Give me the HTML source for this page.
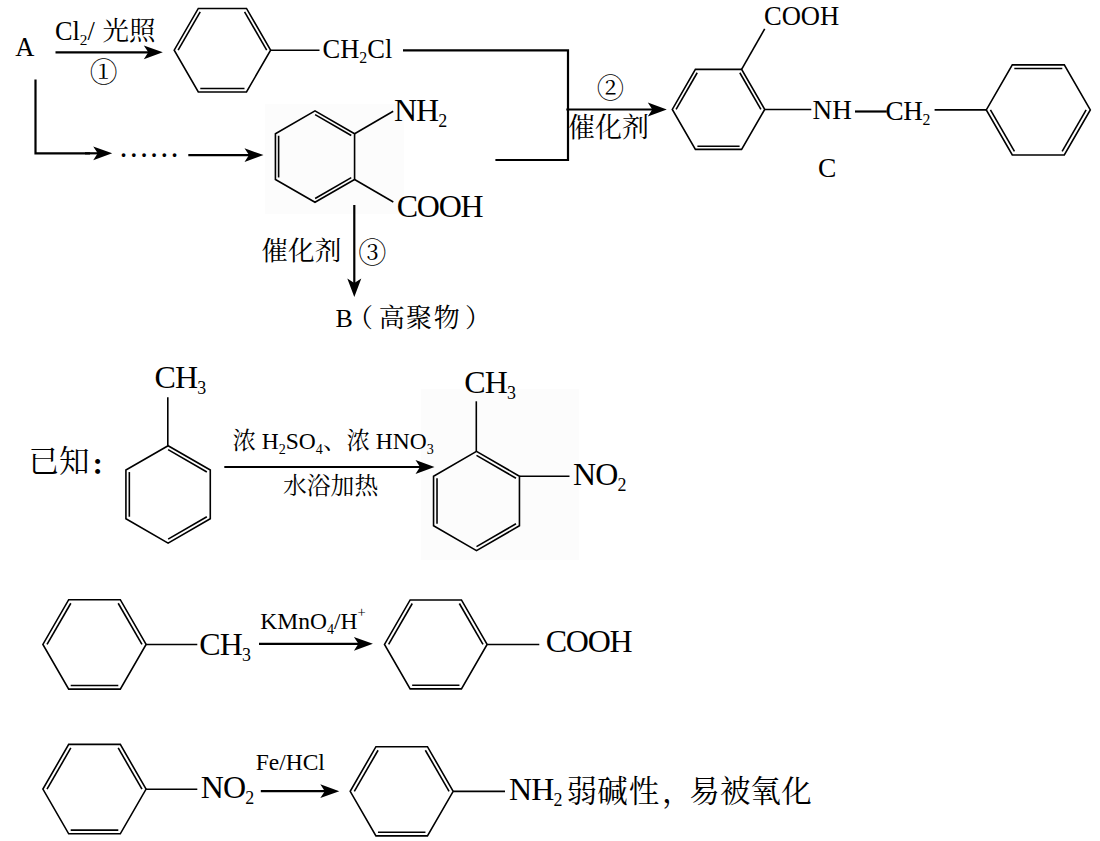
<!DOCTYPE html>
<html lang="zh">
<head>
<meta charset="utf-8">
<title>reaction scheme</title>
<style>
html,body{margin:0;padding:0;background:#fff;}
svg{display:block;}
text{font-family:'Liberation Serif', 'Noto Serif CJK SC', serif;fill:#000;white-space:pre;}
</style>
</head>
<body>
<svg width="1100" height="841" viewBox="0 0 1100 841">
<rect x="0" y="0" width="1100" height="841" fill="#fff"/>
<rect x="265" y="104" width="139" height="110" fill="#fcfcfc"/>
<rect x="421" y="389" width="158" height="171" fill="#fcfcfc"/>
<text x="15.30" y="55.80" font-size="26.5" ><tspan>A</tspan></text>
<text x="55.00" y="39.50" font-size="26.3" ><tspan>Cl</tspan><tspan font-size="15.25" dy="5.00">2</tspan><tspan dy="-5.00">/</tspan></text>
<text x="102.40" y="39.50" font-size="26.5" ><tspan>光照</tspan></text>
<line x1="55.50" y1="52.30" x2="149.30" y2="52.30" stroke="#000" stroke-width="2.2" stroke-linecap="butt"/>
<polygon points="162.80,52.30 143.80,45.40 148.30,52.30 143.80,59.20" fill="#000"/>
<text x="103.50" y="81.81" font-size="27.72" text-anchor="middle" style="font-family:'Noto Serif CJK SC',serif">①</text>
<polyline points="35.5,79.5 35.5,153.3 90,153.3" fill="none" stroke="#000" stroke-width="2.2"/>
<line x1="85.00" y1="153.30" x2="98.70" y2="153.30" stroke="#000" stroke-width="2.2" stroke-linecap="butt"/>
<polygon points="112.20,153.30 93.20,146.40 97.70,153.30 93.20,160.20" fill="#000"/>
<text x="118.40" y="157.30" font-size="30.6" style="font-family:'Liberation Serif',serif"><tspan>……</tspan></text>
<line x1="188.30" y1="155.10" x2="250.00" y2="155.10" stroke="#000" stroke-width="2.2" stroke-linecap="butt"/>
<polygon points="263.50,155.10 244.50,148.20 249.00,155.10 244.50,162.00" fill="#000"/>
<polygon points="270.60,50.20 246.50,8.46 198.30,8.46 174.20,50.20 198.30,91.94 246.50,91.94" fill="none" stroke="#000" stroke-width="1.6" stroke-linejoin="miter"/>
<line x1="200.22" y1="11.88" x2="178.12" y2="50.15" stroke="#000" stroke-width="1.6" stroke-linecap="butt"/>
<line x1="266.68" y1="50.15" x2="244.58" y2="11.88" stroke="#000" stroke-width="1.6" stroke-linecap="butt"/>
<line x1="200.30" y1="88.57" x2="244.50" y2="88.57" stroke="#000" stroke-width="1.6" stroke-linecap="butt"/>
<line x1="270.60" y1="50.20" x2="319.50" y2="50.20" stroke="#000" stroke-width="1.6" stroke-linecap="butt"/>
<text x="322.50" y="58.30" font-size="26.5" ><tspan>CH</tspan><tspan font-size="15.90" dy="5.04">2</tspan><tspan dy="-5.04">Cl</tspan></text>
<polyline points="403,50.4 568,50.4 568,160 495.4,160" fill="none" stroke="#000" stroke-width="2.2"/>
<line x1="566.30" y1="109.50" x2="653.30" y2="109.50" stroke="#000" stroke-width="2.2" stroke-linecap="butt"/>
<polygon points="666.80,109.50 647.80,102.60 652.30,109.50 647.80,116.40" fill="#000"/>
<text x="610.30" y="97.85" font-size="27.30" text-anchor="middle" style="font-family:'Noto Serif CJK SC',serif">②</text>
<text x="568.00" y="136.80" font-size="27" ><tspan>催化剂</tspan></text>
<polygon points="354.58,133.75 315.00,110.90 275.42,133.75 275.42,179.45 315.00,202.30 354.58,179.45" fill="none" stroke="#000" stroke-width="1.6" stroke-linejoin="miter"/>
<line x1="351.25" y1="135.52" x2="315.13" y2="114.67" stroke="#000" stroke-width="1.6" stroke-linecap="butt"/>
<line x1="278.62" y1="135.75" x2="278.62" y2="177.45" stroke="#000" stroke-width="1.6" stroke-linecap="butt"/>
<line x1="315.13" y1="198.53" x2="351.25" y2="177.68" stroke="#000" stroke-width="1.6" stroke-linecap="butt"/>
<line x1="354.60" y1="133.70" x2="393.20" y2="111.30" stroke="#000" stroke-width="1.6" stroke-linecap="butt"/>
<line x1="354.60" y1="179.50" x2="393.30" y2="202.00" stroke="#000" stroke-width="1.6" stroke-linecap="butt"/>
<text x="393.90" y="120.70" font-size="32" letter-spacing="-0.9" ><tspan>NH</tspan><tspan font-size="17.92" dy="5.80">2</tspan></text>
<text x="396.80" y="217.20" font-size="32" letter-spacing="-1.3" ><tspan>COOH</tspan></text>
<line x1="354.30" y1="205.00" x2="354.30" y2="283.90" stroke="#000" stroke-width="2.2" stroke-linecap="butt"/>
<polygon points="354.30,296.90 347.30,278.40 354.30,282.90 361.30,278.40" fill="#000"/>
<text x="261.30" y="259.60" font-size="26.7" ><tspan>催化剂</tspan></text>
<text x="372.20" y="263.28" font-size="28.15" text-anchor="middle" style="font-family:'Noto Serif CJK SC',serif">③</text>
<text x="335.50 347.00 378.80 406.00 433.80 465.10" y="326.60" font-size="26" ><tspan>B（高聚物）</tspan></text>
<polygon points="764.70,109.40 741.60,69.39 695.40,69.39 672.30,109.40 695.40,149.41 741.60,149.41" fill="none" stroke="#000" stroke-width="1.6" stroke-linejoin="miter"/>
<line x1="697.20" y1="72.74" x2="676.10" y2="109.28" stroke="#000" stroke-width="1.6" stroke-linecap="butt"/>
<line x1="760.90" y1="109.28" x2="739.80" y2="72.74" stroke="#000" stroke-width="1.6" stroke-linecap="butt"/>
<line x1="697.40" y1="146.18" x2="739.60" y2="146.18" stroke="#000" stroke-width="1.6" stroke-linecap="butt"/>
<line x1="741.60" y1="69.40" x2="764.70" y2="28.80" stroke="#000" stroke-width="1.6" stroke-linecap="butt"/>
<text x="763.90" y="25.30" font-size="26.6" ><tspan>COOH</tspan></text>
<line x1="764.70" y1="109.50" x2="811.30" y2="109.50" stroke="#000" stroke-width="1.6" stroke-linecap="butt"/>
<text x="812.50" y="118.90" font-size="27.2" ><tspan>NH</tspan></text>
<line x1="855.00" y1="111.50" x2="886.80" y2="111.50" stroke="#000" stroke-width="2.2" stroke-linecap="butt"/>
<text x="885.60" y="119.80" font-size="27.2" letter-spacing="-0.4" ><tspan>CH</tspan><tspan font-size="15.78" dy="5.17">2</tspan></text>
<line x1="934.60" y1="109.90" x2="986.60" y2="109.90" stroke="#000" stroke-width="1.6" stroke-linecap="butt"/>
<polygon points="1090.30,109.90 1064.30,64.87 1012.30,64.87 986.30,109.90 1012.30,154.93 1064.30,154.93" fill="none" stroke="#000" stroke-width="1.6" stroke-linejoin="miter"/>
<line x1="1062.30" y1="68.51" x2="1014.30" y2="68.51" stroke="#000" stroke-width="1.6" stroke-linecap="butt"/>
<line x1="990.45" y1="109.81" x2="1014.45" y2="151.38" stroke="#000" stroke-width="1.6" stroke-linecap="butt"/>
<line x1="1062.15" y1="151.38" x2="1086.15" y2="109.81" stroke="#000" stroke-width="1.6" stroke-linecap="butt"/>
<text x="818.00" y="176.80" font-size="27.5" ><tspan>C</tspan></text>
<text y="472.3" font-size="30.5"><tspan x="28.5">已知</tspan><tspan x="90.8" y="474" font-size="24" font-weight="900">：</tspan></text>
<text x="154.60" y="387.90" font-size="32" letter-spacing="-0.9" ><tspan>CH</tspan><tspan font-size="17.92" dy="5.80">3</tspan></text>
<line x1="167.80" y1="397.30" x2="167.80" y2="445.70" stroke="#000" stroke-width="1.6" stroke-linecap="butt"/>
<polygon points="210.28,470.05 168.10,445.70 125.92,470.05 125.92,518.75 168.10,543.10 210.28,518.75" fill="none" stroke="#000" stroke-width="1.6" stroke-linejoin="miter"/>
<line x1="206.84" y1="472.00" x2="168.13" y2="449.65" stroke="#000" stroke-width="1.6" stroke-linecap="butt"/>
<line x1="129.33" y1="472.05" x2="129.33" y2="516.75" stroke="#000" stroke-width="1.6" stroke-linecap="butt"/>
<line x1="168.13" y1="539.15" x2="206.84" y2="516.80" stroke="#000" stroke-width="1.6" stroke-linecap="butt"/>
<line x1="224.30" y1="467.00" x2="421.00" y2="467.00" stroke="#000" stroke-width="2.2" stroke-linecap="butt"/>
<polygon points="434.50,467.00 415.50,460.10 420.00,467.00 415.50,473.90" fill="#000"/>
<text x="232.40" y="449.30" font-size="23.5" ><tspan>浓 H</tspan><tspan font-size="14.10" dy="4.46">2</tspan><tspan dy="-4.46">SO</tspan><tspan font-size="14.10" dy="4.46">4</tspan><tspan dy="-4.46">、浓 HNO</tspan><tspan font-size="14.10" dy="4.46">3</tspan></text>
<text x="283.00" y="494.20" font-size="23.8" ><tspan>水浴加热</tspan></text>
<text x="464.30" y="393.10" font-size="32" letter-spacing="-0.9" ><tspan>CH</tspan><tspan font-size="17.92" dy="5.80">3</tspan></text>
<line x1="476.30" y1="401.30" x2="476.30" y2="451.30" stroke="#000" stroke-width="1.6" stroke-linecap="butt"/>
<polygon points="519.45,476.20 476.50,451.40 433.55,476.20 433.55,525.80 476.50,550.60 519.45,525.80" fill="none" stroke="#000" stroke-width="1.6" stroke-linejoin="miter"/>
<line x1="515.99" y1="478.21" x2="476.50" y2="455.41" stroke="#000" stroke-width="1.6" stroke-linecap="butt"/>
<line x1="437.02" y1="478.20" x2="437.02" y2="523.80" stroke="#000" stroke-width="1.6" stroke-linecap="butt"/>
<line x1="476.50" y1="546.59" x2="515.99" y2="523.79" stroke="#000" stroke-width="1.6" stroke-linecap="butt"/>
<line x1="519.50" y1="476.30" x2="569.50" y2="476.30" stroke="#000" stroke-width="1.6" stroke-linecap="butt"/>
<text x="573.00" y="485.20" font-size="32" letter-spacing="-0.9" ><tspan>NO</tspan><tspan font-size="17.92" dy="5.80">2</tspan></text>
<polygon points="146.10,644.40 120.30,599.71 68.70,599.71 42.90,644.40 68.70,689.09 120.30,689.09" fill="none" stroke="#000" stroke-width="1.6" stroke-linejoin="miter"/>
<line x1="70.83" y1="603.25" x2="47.03" y2="644.47" stroke="#000" stroke-width="1.6" stroke-linecap="butt"/>
<line x1="141.97" y1="644.47" x2="118.17" y2="603.25" stroke="#000" stroke-width="1.6" stroke-linecap="butt"/>
<line x1="70.70" y1="685.47" x2="118.30" y2="685.47" stroke="#000" stroke-width="1.6" stroke-linecap="butt"/>
<line x1="146.00" y1="644.50" x2="197.30" y2="644.50" stroke="#000" stroke-width="1.6" stroke-linecap="butt"/>
<text x="199.30" y="655.10" font-size="32" letter-spacing="-0.9" ><tspan>CH</tspan><tspan font-size="17.92" dy="5.80">3</tspan></text>
<line x1="259.00" y1="643.80" x2="359.40" y2="643.80" stroke="#000" stroke-width="2.2" stroke-linecap="butt"/>
<polygon points="372.90,643.80 353.90,636.90 358.40,643.80 353.90,650.70" fill="#000"/>
<text x="260.30" y="629.10" font-size="23.5" ><tspan>KMnO</tspan><tspan font-size="14.10" dy="4.46">4</tspan><tspan dy="-4.46">/H</tspan><tspan font-size="14.57" dy="-11.75">+</tspan></text>
<polygon points="487.10,644.40 461.45,599.97 410.15,599.97 384.50,644.40 410.15,688.83 461.45,688.83" fill="none" stroke="#000" stroke-width="1.6" stroke-linejoin="miter"/>
<line x1="412.26" y1="603.50" x2="388.61" y2="644.46" stroke="#000" stroke-width="1.6" stroke-linecap="butt"/>
<line x1="482.99" y1="644.46" x2="459.34" y2="603.50" stroke="#000" stroke-width="1.6" stroke-linecap="butt"/>
<line x1="412.15" y1="685.24" x2="459.45" y2="685.24" stroke="#000" stroke-width="1.6" stroke-linecap="butt"/>
<line x1="487.20" y1="644.50" x2="539.30" y2="644.50" stroke="#000" stroke-width="1.6" stroke-linecap="butt"/>
<text x="545.80" y="652.20" font-size="32" letter-spacing="-1.3" ><tspan>COOH</tspan></text>
<polygon points="146.10,789.10 120.30,744.41 68.70,744.41 42.90,789.10 68.70,833.79 120.30,833.79" fill="none" stroke="#000" stroke-width="1.6" stroke-linejoin="miter"/>
<line x1="70.83" y1="747.95" x2="47.03" y2="789.17" stroke="#000" stroke-width="1.6" stroke-linecap="butt"/>
<line x1="141.97" y1="789.17" x2="118.17" y2="747.95" stroke="#000" stroke-width="1.6" stroke-linecap="butt"/>
<line x1="70.70" y1="830.17" x2="118.30" y2="830.17" stroke="#000" stroke-width="1.6" stroke-linecap="butt"/>
<line x1="146.00" y1="789.20" x2="197.30" y2="789.20" stroke="#000" stroke-width="1.6" stroke-linecap="butt"/>
<text x="200.80" y="798.20" font-size="32" letter-spacing="-0.9" ><tspan>NO</tspan><tspan font-size="17.92" dy="5.80">2</tspan></text>
<line x1="260.80" y1="791.20" x2="325.80" y2="791.20" stroke="#000" stroke-width="2.2" stroke-linecap="butt"/>
<polygon points="339.30,791.20 320.30,784.30 324.80,791.20 320.30,798.10" fill="#000"/>
<text x="255.70" y="769.90" font-size="23.5" ><tspan>Fe/HCl</tspan></text>
<polygon points="453.20,791.30 427.45,746.70 375.95,746.70 350.20,791.30 375.95,835.90 427.45,835.90" fill="none" stroke="#000" stroke-width="1.6" stroke-linejoin="miter"/>
<line x1="378.07" y1="750.23" x2="354.32" y2="791.37" stroke="#000" stroke-width="1.6" stroke-linecap="butt"/>
<line x1="449.08" y1="791.37" x2="425.33" y2="750.23" stroke="#000" stroke-width="1.6" stroke-linecap="butt"/>
<line x1="377.95" y1="832.30" x2="425.45" y2="832.30" stroke="#000" stroke-width="1.6" stroke-linecap="butt"/>
<line x1="453.20" y1="791.40" x2="505.00" y2="791.40" stroke="#000" stroke-width="1.6" stroke-linecap="butt"/>
<text x="509.00" y="800.20" font-size="32" letter-spacing="-0.9" ><tspan>NH</tspan><tspan font-size="17.92" dy="5.80">2</tspan></text>
<text x="566.40 597.30 628.80 661.90 689.20 719.90 750.30 781.30" y="801.50" font-size="30.5" ><tspan>弱碱性，易被氧化</tspan></text>
</svg>
</body>
</html>
